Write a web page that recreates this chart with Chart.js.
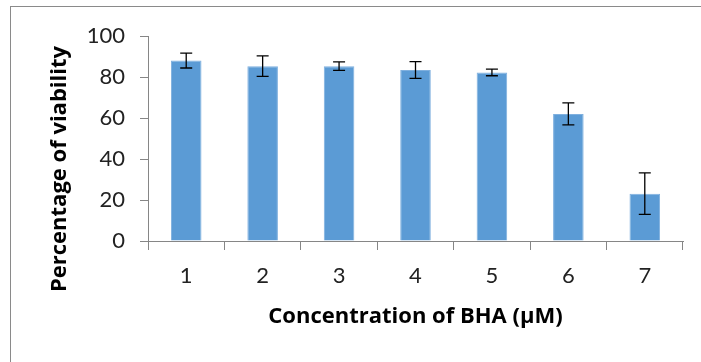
<!DOCTYPE html>
<html>
<head>
<meta charset="utf-8">
<script src="https://cdn.jsdelivr.net/npm/chart.js@4"></script>
<style>
  body { margin: 0; background: #fff; }
  #wrap { position: relative; width: 701px; height: 362px; overflow: hidden; }
</style>
</head>
<body>
<div id="wrap"><canvas id="chart" width="701" height="362"></canvas></div>
<script>
const concentrations = ["1", "2", "3", "4", "5", "6", "7"];
const viability = [88, 85.3, 85.3, 83.4, 82.2, 62, 23.1];
const errors = [3.6, 5, 2.1, 4.1, 1.6, 5.4, 10.1];
const yTicks = [0, 20, 40, 60, 80, 100];

const yTitle = "Percentage of viability";
const xTitle = "Concentration of BHA (µM)";

// outer frame, error bars and the y title (Excel puts it a bit lower than the axis middle)
const extras = {
  id: "extras",
  beforeDraw(chart) {
    const c = chart.ctx;
    c.save();
    c.fillStyle = "#fff";
    c.fillRect(0, 0, chart.width, chart.height);
    c.strokeStyle = "#8a8a8a";
    c.lineWidth = 1;
    c.strokeRect(10.5, 6.5, 900, 900);
    c.restore();
  },
  afterDatasetsDraw(chart) {
    const c = chart.ctx;
    const x = chart.scales.x, y = chart.scales.y;
    c.save();
    c.strokeStyle = "#000";
    c.lineWidth = 1.3;
    viability.forEach((v, i) => {
      const px = x.getPixelForValue(i);
      const hi = y.getPixelForValue(v + errors[i]);
      const lo = y.getPixelForValue(v - errors[i]);
      c.beginPath();
      c.moveTo(px, hi); c.lineTo(px, lo);
      c.moveTo(px - 6, hi); c.lineTo(px + 6, hi);
      c.moveTo(px - 6, lo); c.lineTo(px + 6, lo);
      c.stroke();
    });
    c.translate(60, 169);
    c.rotate(-Math.PI / 2);
    c.font = "bold 22px 'Open Sans'";
    c.fillStyle = "#000";
    c.textAlign = "center";
    c.textBaseline = "middle";
    c.fillText(yTitle, 0, 0);
    c.restore();
  }
};

new Chart(document.getElementById("chart"), {
  type: "bar",
  data: {
    labels: concentrations,
    datasets: [{
      data: viability,
      backgroundColor: "#5B9BD5",
      borderColor: "#7FB0DF",
      borderWidth: 1,
      categoryPercentage: 1,
      barPercentage: 0.4
    }]
  },
  options: {
    responsive: false,
    animation: false,
    layout: { padding: { left: 10, top: 36, right: 18, bottom: 0 } },
    plugins: { legend: { display: false }, tooltip: { enabled: false } },
    scales: {
      x: {
        grid: { drawOnChartArea: false, tickLength: 9, color: "#868686", offset: true },
        border: { color: "#868686", width: 1 },
        ticks: { color: "#222", font: { family: "Lato", size: 22 }, padding: 13 },
        title: { display: true, text: xTitle, color: "#000", font: { family: "'Open Sans'", size: 22, weight: "bold" }, padding: { top: 0, bottom: 32 } },
        afterFit(s) { s.height = 121; }
      },
      y: {
        min: 0, max: 100,
        afterBuildTicks(s) { s.ticks = yTicks.map(v => ({ value: v })); },
        grid: { drawOnChartArea: false, tickLength: 8, color: "#868686" },
        border: { color: "#868686", width: 1 },
        ticks: { color: "#222", font: { family: "Lato", size: 22 }, padding: 15 },
        afterFit(s) { s.width = 138; }
      }
    }
  },
  plugins: [extras]
});
</script>
</body>
</html>
